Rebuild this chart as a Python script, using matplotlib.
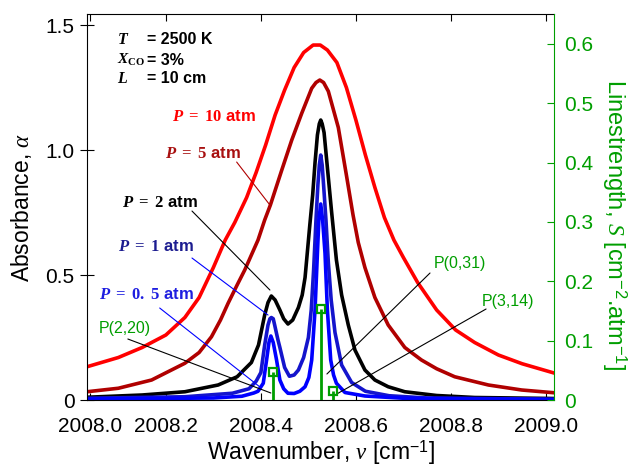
import numpy as np
import matplotlib
matplotlib.use('Agg')
from matplotlib import pyplot as plt
from matplotlib.ticker import FuncFormatter

plt.rcParams['font.family'] = ['Liberation Sans', 'DejaVu Sans']
plt.rcParams['mathtext.fontset'] = 'custom'
plt.rcParams['mathtext.rm'] = 'Liberation Sans'
plt.rcParams['mathtext.it'] = 'Liberation Serif:italic'
plt.rcParams['mathtext.bf'] = 'Liberation Serif:bold'
plt.rcParams['mathtext.bfit'] = 'Liberation Serif:bold:italic'

# 吸光度曲线
nu_p10 = [2008.034, 2008.10, 2008.15, 2008.20, 2008.24, 2008.27, 2008.30, 2008.325, 2008.345,
          2008.37, 2008.39, 2008.41, 2008.43, 2008.45, 2008.47, 2008.49, 2008.51, 2008.525,
          2008.54, 2008.56, 2008.58, 2008.60, 2008.62, 2008.64, 2008.66, 2008.68, 2008.70,
          2008.73, 2008.77, 2008.81, 2008.85, 2008.90, 2008.95, 2009.017]
a_p10 = [0.133, 0.17, 0.21, 0.26, 0.33, 0.41, 0.53, 0.64, 0.71,
         0.81, 0.91, 1.02, 1.14, 1.24, 1.33, 1.39, 1.42, 1.42,
         1.40, 1.35, 1.25, 1.12, 0.98, 0.85, 0.73, 0.64, 0.57,
         0.47, 0.36, 0.28, 0.23, 0.18, 0.145, 0.108]

nu_p5 = [2008.034, 2008.10, 2008.17, 2008.24, 2008.27, 2008.296, 2008.315, 2008.331, 2008.35,
         2008.366, 2008.38, 2008.394, 2008.408, 2008.42, 2008.432, 2008.444, 2008.465, 2008.486,
         2008.507, 2008.516, 2008.524, 2008.532, 2008.542, 2008.563, 2008.58, 2008.594, 2008.605,
         2008.619, 2008.64, 2008.668, 2008.703, 2008.738, 2008.77, 2008.808, 2008.879, 2008.949,
         2009.017]
a_p5 = [0.033, 0.047, 0.08, 0.147, 0.19, 0.253, 0.32, 0.387, 0.46,
        0.52, 0.58, 0.64, 0.72, 0.78, 0.85, 0.92, 1.04, 1.147,
        1.247, 1.27, 1.28, 1.27, 1.235, 1.09, 0.90, 0.74, 0.63,
        0.53, 0.41, 0.30, 0.21, 0.16, 0.125, 0.093, 0.06, 0.04,
        0.029]

nu_p2 = [2008.034, 2008.15, 2008.24, 2008.31, 2008.35, 2008.38, 2008.395, 2008.408, 2008.415,
         2008.422, 2008.43, 2008.44, 2008.448, 2008.457, 2008.467, 2008.479, 2008.487, 2008.493,
         2008.503, 2008.509, 2008.514, 2008.519, 2008.523, 2008.526, 2008.529, 2008.533, 2008.540,
         2008.549, 2008.559, 2008.57, 2008.584, 2008.598, 2008.619, 2008.64, 2008.668, 2008.703,
         2008.77, 2008.85, 2009.017]
a_p2 = [0.011, 0.02, 0.033, 0.06, 0.093, 0.15, 0.22, 0.34, 0.39,
        0.416, 0.40, 0.36, 0.325, 0.304, 0.32, 0.37, 0.42, 0.49,
        0.70, 0.82, 0.95, 1.06, 1.105, 1.12, 1.105, 1.07, 0.93,
        0.75, 0.56, 0.42, 0.30, 0.20, 0.12, 0.08, 0.053, 0.033,
        0.018, 0.01, 0.006]

nu_p1 = [2008.034, 2008.24, 2008.34, 2008.375, 2008.39, 2008.40, 2008.408, 2008.415, 2008.419,
         2008.422, 2008.426, 2008.429, 2008.436, 2008.44, 2008.45, 2008.46, 2008.47, 2008.479,
         2008.49, 2008.50, 2008.506, 2008.511, 2008.516, 2008.52, 2008.523, 2008.526, 2008.529,
         2008.532, 2008.537, 2008.542, 2008.548, 2008.556, 2008.57, 2008.591, 2008.62, 2008.67,
         2008.75, 2009.017]
a_p1 = [0.007, 0.013, 0.027, 0.045, 0.075, 0.11, 0.22, 0.30, 0.325,
        0.33, 0.325, 0.30, 0.24, 0.21, 0.13, 0.095, 0.10, 0.12,
        0.17, 0.25, 0.36, 0.52, 0.72, 0.86, 0.94, 0.98, 0.94,
        0.86, 0.72, 0.55, 0.40, 0.27, 0.14, 0.07, 0.035, 0.017,
        0.008, 0.003]

nu_p05 = [2008.034, 2008.30, 2008.36, 2008.385, 2008.394, 2008.405, 2008.412, 2008.417, 2008.421,
          2008.426, 2008.433, 2008.44, 2008.448, 2008.457, 2008.47, 2008.482, 2008.493, 2008.501,
          2008.507, 2008.514, 2008.519, 2008.522, 2008.526, 2008.530, 2008.535, 2008.540, 2008.547,
          2008.553, 2008.559, 2008.577, 2008.619, 2008.70, 2009.017]
a_p05 = [0.004, 0.008, 0.015, 0.028, 0.035, 0.067, 0.16, 0.23, 0.256,
         0.23, 0.16, 0.08, 0.045, 0.027, 0.026, 0.035, 0.053, 0.09,
         0.16, 0.36, 0.587, 0.72, 0.784, 0.72, 0.587, 0.36, 0.16,
         0.10, 0.067, 0.03, 0.016, 0.007, 0.002]

# 谱线强度
line_nu = [2008.425, 2008.526, 2008.551]
line_S = [0.048, 0.154, 0.016]
line_names = ['P(2,20)', 'P(0,31)', 'P(3,14)']

green = '#009E00'
c_p10 = '#FF0000'
c_p5 = '#B00000'
c_p2 = '#000000'
c_p1 = '#1414CC'
c_p05 = '#0000FF'

fig = plt.figure(figsize=(6.3, 4.72), dpi=100)
ax = fig.add_axes([87 / 630, 1 - 400 / 472, 467 / 630, (400 - 14.3) / 472])

ax.plot(nu_p10, a_p10, color=c_p10, lw=2.6)
ax.plot(nu_p5, a_p5, color=c_p5, lw=2.6)
ax.plot(nu_p2, a_p2, color=c_p2, lw=2.6)
ax.plot(nu_p1, a_p1, color=c_p1, lw=2.6)
ax.plot(nu_p05, a_p05, color=c_p05, lw=2.6)

ax.set_xlim(2008.034, 2009.017)
ax.set_ylim(0, 1.543)
ax.set_xticks([2008.04, 2008.2, 2008.4, 2008.6, 2008.8, 2009.0])
ax.xaxis.set_major_formatter(FuncFormatter(lambda v, p: '%.1f' % v))
ax.set_yticks([0, 0.5, 1.0, 1.5])
ax.yaxis.set_major_formatter(FuncFormatter(lambda v, p: '0' if v == 0 else '%.1f' % v))
ax.tick_params(axis='x', direction='in', top=True, length=5, labelsize=15, pad=12)
ax.tick_params(axis='y', direction='inout', length=10, labelsize=15, pad=4)
ax.spines['right'].set_visible(False)
ax.set_xlabel(r'Wavenumber, $\nu$ [cm$^{-1}$]', fontsize=16.5, labelpad=2)
ax.set_ylabel(r'Absorbance, $\alpha$', fontsize=16.5, labelpad=8)

# 参数说明
ax.text(2008.097, 1.444, r'$\mathbfit{T}$', fontsize=11.5, va='center')
ax.text(2008.160, 1.444, '= 2500 K', fontsize=11.5, weight='bold', va='center')
ax.text(2008.097, 1.36, r'$\mathbfit{X}_{\mathbf{CO}}$', fontsize=11, va='center')
ax.text(2008.160, 1.36, '= 3%', fontsize=11.5, weight='bold', va='center')
ax.text(2008.097, 1.288, r'$\mathbfit{L}$', fontsize=11.5, va='center')
ax.text(2008.160, 1.288, '= 10 cm', fontsize=11.5, weight='bold', va='center')

# 压力标注
ax.text(2008.213, 1.136, r'$\mathbfit{P}\mathbf{\ =\ 10}$ atm', color=c_p10, fontsize=12,
        weight='bold', va='center')
ax.text(2008.198, 0.988, r'$\mathbfit{P}\mathbf{\ =\ 5}$ atm', color='#A81010', fontsize=12,
        weight='bold', va='center')
ax.text(2008.107, 0.792, r'$\mathbfit{P}\mathbf{\ =\ 2}$ atm', color='black', fontsize=12,
        weight='bold', va='center')
ax.text(2008.099, 0.616, r'$\mathbfit{P}\mathbf{\ =\ 1}$ atm', color='#1C1C90', fontsize=12,
        weight='bold', va='center')
ax.text(2008.059, 0.424, r'$\mathbfit{P}\mathbf{\ =\ 0.\ 5}$ atm', color='#1E1EE0', fontsize=12,
        weight='bold', va='center')

lead = dict(arrowstyle='-', lw=0.8, shrinkA=0, shrinkB=0)
ax.annotate('', xy=(2008.419, 0.78), xytext=(2008.349, 0.952), arrowprops=dict(lead, color=c_p5))
ax.annotate('', xy=(2008.419, 0.44), xytext=(2008.255, 0.756), arrowprops=dict(lead, color='black'))
ax.annotate('', xy=(2008.415, 0.34), xytext=(2008.255, 0.568), arrowprops=dict(lead, color=c_p05))
ax.annotate('', xy=(2008.398, 0.052), xytext=(2008.187, 0.368), arrowprops=dict(lead, color=c_p05))

# 谱线强度（右轴）
ax2 = ax.twinx()
ax2.vlines(line_nu, 0, line_S, color=green, lw=2)
ax2.plot(line_nu, line_S, 's', ms=6, mfc='none', mec=green, mew=1.6)
ax2.set_ylim(0, 0.65)
ax2.set_yticks([0, 0.1, 0.2, 0.3, 0.4, 0.5, 0.6])
ax2.yaxis.set_major_formatter(FuncFormatter(lambda v, p: '0' if v == 0 else '%.1f' % v))
ax2.tick_params(axis='y', direction='in', length=5, labelsize=15, colors=green, pad=7)
ax2.spines['right'].set_color(green)
ax2.spines['left'].set_visible(False)
ax2.spines['top'].set_visible(False)
ax2.spines['bottom'].set_visible(False)
ax2.set_ylabel(r'Linestrength, $S$ [cm$^{-2}$.atm$^{-1}$]', fontsize=17, color=green,
               rotation=270, va='center')
ax2.yaxis.set_label_coords(1.13, 0.454)

ax.text(2008.059, 0.288, line_names[0], color=green, fontsize=11.5, va='center')
ax.text(2008.764, 0.548, line_names[1], color=green, fontsize=11.5, va='center')
ax.text(2008.865, 0.396, line_names[2], color=green, fontsize=11.5, va='center')
ax.annotate('', xy=(2008.421, 0.028), xytext=(2008.12, 0.244), arrowprops=dict(lead, color='black'))
ax.annotate('', xy=(2008.539, 0.104), xytext=(2008.756, 0.508), arrowprops=dict(lead, color='black'))
ax.annotate('', xy=(2008.556, 0.02), xytext=(2008.874, 0.364), arrowprops=dict(lead, color='black'))

plt.savefig('out.png', dpi=100)
plt.close()
